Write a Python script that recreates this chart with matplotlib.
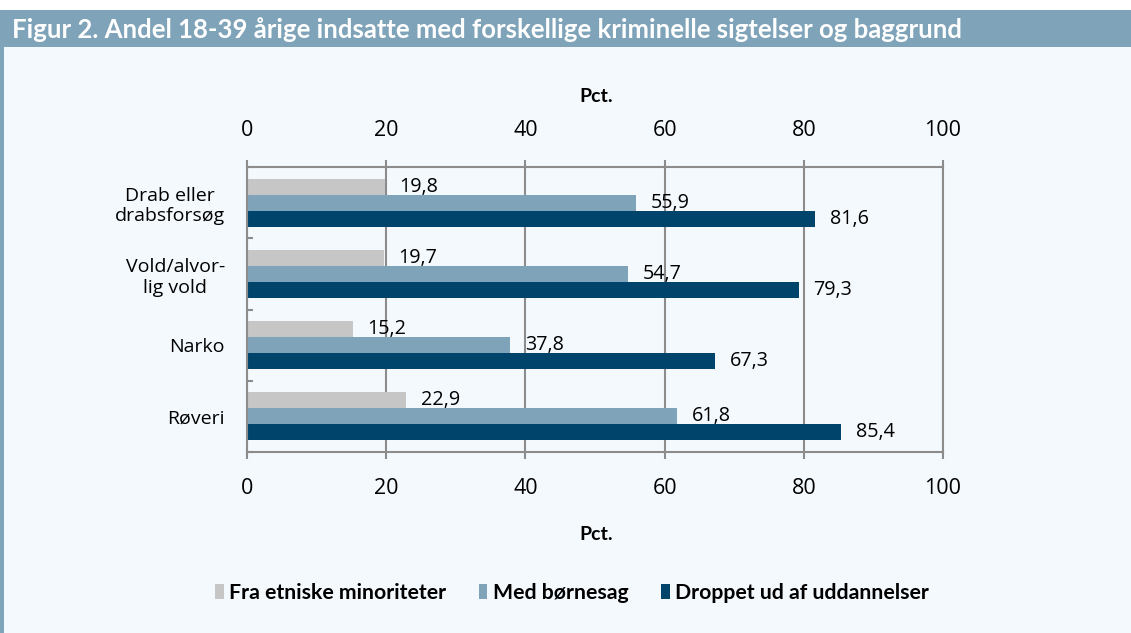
import matplotlib
matplotlib.use("Agg")
import matplotlib.pyplot as plt
import matplotlib.patches as mpatches
import numpy as np

categories = ["Drab eller\ndrabsforsøg", "Vold/alvor-\nlig vold", "Narko", "Røveri"]
series_names = ["Fra etniske minoriteter", "Med børnesag", "Droppet ud af uddannelser"]
etniske = [19.8, 19.7, 15.2, 22.9]
boernesag = [55.9, 54.7, 37.8, 61.8]
droppet = [81.6, 79.3, 67.3, 85.4]
x_ticks = [0, 20, 40, 60, 80, 100]
title = "Figur 2. Andel 18-39 årige indsatte med forskellige kriminelle sigtelser og baggrund"

colors = ["#C6C6C6", "#7FA3B8", "#00446C"]
bg = "#F4F9FD"
header = "#7FA3B8"
gridc = "#8C8C8C"
base_font = "Open Sans"
bold_font = "Lato"

W, H = 1131, 633
fig = plt.figure(figsize=(W / 100, H / 100), dpi=100)
fig.patch.set_facecolor(bg)

# header band and left strip
fig.add_artist(mpatches.Rectangle((0, 1 - 47 / H), 1, 37 / H, transform=fig.transFigure,
                                  facecolor=header, edgecolor="none", zorder=0))
fig.add_artist(mpatches.Rectangle((0, 0), 4 / W, 1 - 47 / H, transform=fig.transFigure,
                                  facecolor=header, edgecolor="none", zorder=0))
fig.add_artist(mpatches.Rectangle((0, 1 - 10 / H), 1, 10 / H, transform=fig.transFigure,
                                  facecolor="white", edgecolor="none", zorder=0))
fig.text(12 / W, 1 - 30 / H, title, color="white", fontsize=18.5, fontweight="bold",
         family=bold_font, va="center", ha="left")

ax = fig.add_axes([247 / W, 1 - 452 / H, (943 - 247) / W, (452 - 167) / H])
ax.set_facecolor(bg)

y = np.arange(len(categories))
bw = 0.224
series = [etniske, boernesag, droppet]
offsets = [-bw, 0, bw]
for vals, off, col, name in zip(series, offsets, colors, series_names):
    bars = ax.barh(y + off, vals, height=bw, color=col, label=name, zorder=2)
    for b, v in zip(bars, vals):
        ax.annotate(f"{v:.1f}".replace(".", ","), (b.get_width(), b.get_y() + b.get_height() / 2),
                    xytext=(10.5, 0), textcoords="offset points", va="center", ha="left",
                    fontsize=14.2, family=base_font, color="black", zorder=3)

ax.set_xlim(0, 100)
ax.set_ylim(3.5, -0.5)
ax.set_xticks(x_ticks)
ax.set_xticklabels([str(t) for t in x_ticks])
ax.xaxis.grid(True, color=gridc, linewidth=1.5, zorder=1)
ax.set_axisbelow(True)
ax.tick_params(axis="x", which="major", top=True, labeltop=True, bottom=True, labelbottom=True,
               direction="out", length=5, width=1.5, color=gridc, labelsize=15.5, pad=14)
for lab in ax.get_xticklabels():
    lab.set_family(base_font)
ax.set_yticks(y)
ax.set_yticklabels(categories, family=base_font, fontsize=14, ha="right", multialignment="center")
ax.tick_params(axis="y", which="major", length=0, pad=16)
ax.set_yticks([-0.5, 0.5, 1.5, 2.5, 3.5], minor=True)
ax.tick_params(axis="y", which="minor", direction="in", length=4.5, width=1.5, color=gridc)
for s in ax.spines.values():
    s.set_color(gridc)
    s.set_linewidth(1.5)

fig.text(596 / W, 1 - 97 / H, "Pct.", ha="center", va="center", fontsize=14, fontweight="bold",
         family=bold_font)
fig.text(596 / W, 1 - 534 / H, "Pct.", ha="center", va="center", fontsize=14, fontweight="bold",
         family=bold_font)

handles = [mpatches.Patch(facecolor=c, edgecolor="none") for c in colors]
leg = fig.legend(handles, series_names, loc="center", bbox_to_anchor=(572 / W, 1 - 593 / H),
                 ncol=3, frameon=False, handlelength=0.4, handleheight=0.75, handletextpad=0.25,
                 columnspacing=1.55, prop={"family": bold_font, "weight": "bold", "size": 15.3})

fig.savefig("out.png", dpi=100, facecolor=fig.get_facecolor())
